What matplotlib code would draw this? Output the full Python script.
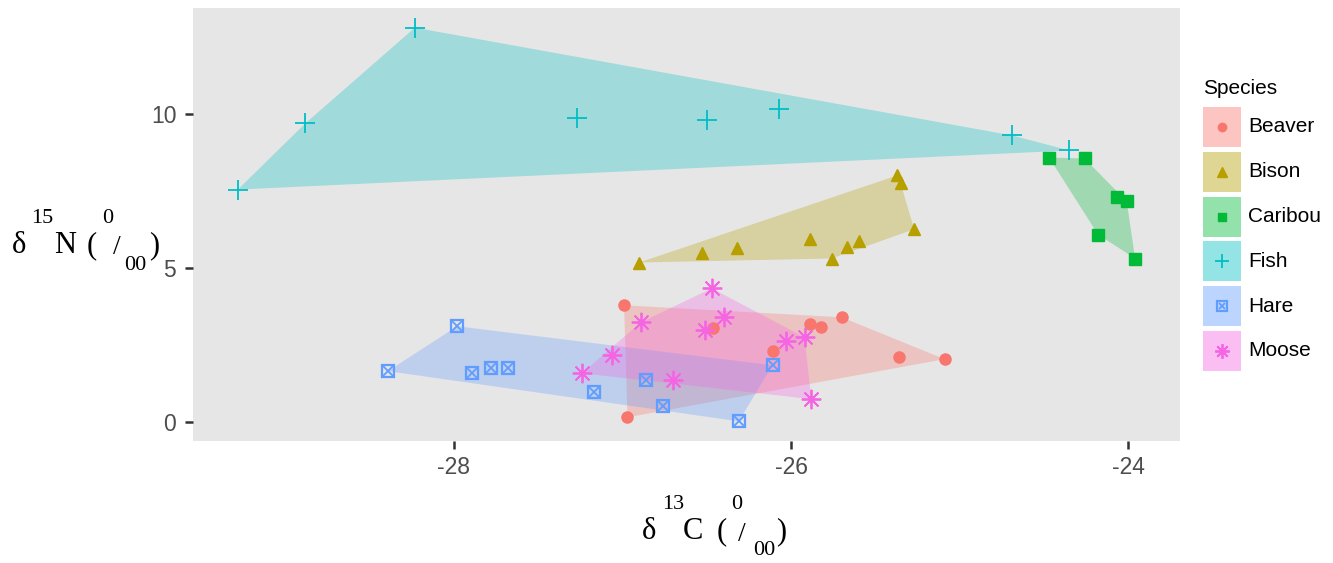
import matplotlib
matplotlib.use("Agg")
import matplotlib.pyplot as plt
from matplotlib.patches import Rectangle, Polygon
import numpy as np

plt.rcParams['font.family'] = ['Liberation Sans', 'DejaVu Sans']

species = ["Beaver", "Bison", "Caribou", "Fish", "Hare", "Moose"]
colors = ["#F8766D", "#B79F00", "#00BA38", "#00BFC4", "#619CFF", "#F564E3"]

beaver_c = [-26.99, -26.97, -26.46, -26.11, -25.89, -25.82, -25.70, -25.36, -25.09]
beaver_n = [3.80, 0.16, 3.05, 2.31, 3.18, 3.08, 3.41, 2.11, 2.05]

bison_c = [-26.90, -26.53, -26.32, -25.89, -25.76, -25.67, -25.60, -25.37, -25.35, -25.27]
bison_n = [5.19, 5.49, 5.65, 5.97, 5.32, 5.71, 5.88, 8.02, 7.76, 6.27]

caribou_c = [-24.47, -24.26, -24.07, -24.01, -24.18, -23.96]
caribou_n = [8.60, 8.57, 7.31, 7.18, 6.10, 5.32]

fish_c = [-29.28, -28.88, -28.23, -27.27, -26.50, -26.07, -24.69, -24.35]
fish_n = [7.56, 9.71, 12.82, 9.90, 9.81, 10.19, 9.32, 8.83]

hare_c = [-28.39, -27.98, -27.89, -27.78, -27.68, -27.17, -26.86, -26.76, -26.31, -26.11]
hare_n = [1.66, 3.12, 1.59, 1.75, 1.75, 0.97, 1.36, 0.52, 0.03, 1.85]

moose_c = [-26.47, -26.89, -26.40, -26.51, -26.03, -25.92, -27.06, -26.70, -25.88, -27.24]
moose_n = [4.35, 3.25, 3.41, 2.99, 2.63, 2.76, 2.18, 1.36, 0.75, 1.59]

xs = [beaver_c, bison_c, caribou_c, fish_c, hare_c, moose_c]
ys = [beaver_n, bison_n, caribou_n, fish_n, hare_n, moose_n]

x_ticks = [-28, -26, -24]
y_ticks = [0, 5, 10]


def hull(px, py):
    pts = sorted(set(zip(px, py)))
    if len(pts) < 3:
        return pts

    def cross(o, a, b):
        return (a[0] - o[0]) * (b[1] - o[1]) - (a[1] - o[1]) * (b[0] - o[0])
    lower = []
    for p in pts:
        while len(lower) >= 2 and cross(lower[-2], lower[-1], p) <= 0:
            lower.pop()
        lower.append(p)
    upper = []
    for p in reversed(pts):
        while len(upper) >= 2 and cross(upper[-2], upper[-1], p) <= 0:
            upper.pop()
        upper.append(p)
    return lower[:-1] + upper[:-1]


def draw_marker(ax, x, y, i, color, scale=1.0):
    kw = dict(linestyle='none', color=color, zorder=5)
    if i == 0:
        ax.plot(x, y, marker='o', ms=8 * scale, mec=color, mfc=color, **kw)
    elif i == 1:
        ax.plot(x, y, marker='^', ms=9 * scale, mec=color, mfc=color, **kw)
    elif i == 2:
        ax.plot(x, y, marker='s', ms=8 * scale, mec=color, mfc=color, **kw)
    elif i == 3:
        ax.plot(x, y, marker='+', ms=14 * scale, mew=1.3, **kw)
    elif i == 4:
        ax.plot(x, y, marker='s', ms=9 * scale, mec=color, mfc='none', mew=1.6, **kw)
        ax.plot(x, y, marker='x', ms=6.5 * scale, mew=1.3, **kw)
    elif i == 5:
        ax.plot(x, y, marker=(8, 2, 0), ms=14 * scale, mew=1.3, **kw)


W, H = 1333, 563
fig = plt.figure(figsize=(W / 100, H / 100), dpi=100)
fig.patch.set_facecolor('white')
ax = fig.add_axes([193 / W, 1 - 441 / H, (1180 - 193) / W, (441 - 8) / H])
ax.set_facecolor('#E6E6E6')

for i, (px, py) in enumerate(zip(xs, ys)):
    h = hull(px, py)
    ax.add_patch(Polygon(h, closed=True, facecolor=colors[i], alpha=0.3,
                         edgecolor='none', zorder=2))
for i, (px, py) in enumerate(zip(xs, ys)):
    draw_marker(ax, px, py, i, colors[i])

allx = sum(xs, [])
ally = sum(ys, [])
dx = (max(allx) - min(allx)) * 0.05
dy = (max(ally) - min(ally)) * 0.05
ax.set_xlim(min(allx) - dx, max(allx) + dx)
ax.set_ylim(min(ally) - dy, max(ally) + dy)

ax.set_xticks(x_ticks)
ax.set_xticklabels([str(v) for v in x_ticks])
ax.set_yticks(y_ticks)
ax.tick_params(axis='both', length=5.5, width=1.8, color='#333333',
               labelcolor='#4D4D4D', labelsize=16.5)
ax.tick_params(axis='y', pad=6.5)
ax.tick_params(axis='x', pad=5)
for s in ax.spines.values():
    s.set_visible(False)
ax.grid(False)


def piece(x, y, s, size):
    fig.text(x / W, 1 - y / H, s, fontsize=size, family='Liberation Serif',
             ha='left', va='baseline', color='black')


BIG, SMALL, SLASH = 22, 16, 20
# y-axis title: delta 15 N (0/00)
piece(12, 253, 'δ', BIG)
piece(31, 223, '15', SMALL)
piece(54, 253, 'N', BIG)
piece(87, 253, '(', BIG)
piece(102, 223, '0', SMALL)
piece(113, 254, '/', SLASH)
piece(124, 270, '00', SMALL)
piece(149, 253, ')', BIG)

# x-axis title: delta 13 C (0/00)
piece(642, 539, 'δ', BIG)
piece(662, 509, '13', SMALL)
piece(683, 539, 'C', BIG)
piece(717, 539, '(', BIG)
piece(731, 509, '0', SMALL)
piece(738, 541, '/', SLASH)
piece(753, 555, '00', SMALL)
piece(776, 539, ')', BIG)

# legend
fig.text(1203 / W, 1 - 94 / H, 'Species', ha='left', va='baseline',
         fontsize=15, color='black')
key_y0 = 127
key_step = 44.8
for i, name in enumerate(species):
    cy = key_y0 + i * key_step
    rect = Rectangle((1203 / W, 1 - (cy + 20) / H), 38 / W, 40 / H,
                     transform=fig.transFigure, facecolor=colors[i],
                     alpha=0.42, edgecolor='none')
    fig.add_artist(rect)
    lax = fig.add_axes([1203 / W, 1 - (cy + 20) / H, 38 / W, 40 / H])
    lax.set_xlim(0, 1)
    lax.set_ylim(0, 1)
    lax.axis('off')
    draw_marker(lax, [0.5], [0.5], i, colors[i], scale=0.75)
    fig.text(1248 / W, 1 - cy / H, name, ha='left', va='center',
             fontsize=15, color='black')

fig.savefig('out.png', dpi=100)
